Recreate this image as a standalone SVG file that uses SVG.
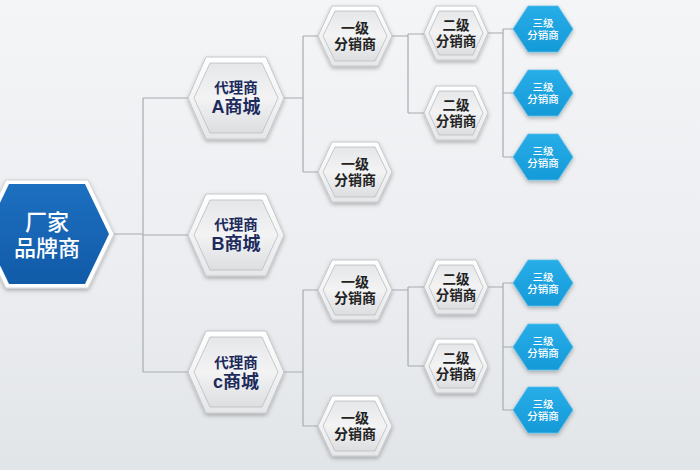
<svg xmlns="http://www.w3.org/2000/svg" xmlns:xlink="http://www.w3.org/1999/xlink" width="700" height="470" viewBox="0 0 700 470">
<defs>
<linearGradient id="bg" x1="0" y1="0" x2="0" y2="1">
<stop offset="0" stop-color="#f4f5f7"/>
<stop offset="0.6" stop-color="#ebedf0"/>
<stop offset="1" stop-color="#e2e5e8"/>
</linearGradient>
<linearGradient id="rim" x1="0" y1="0" x2="0" y2="1">
<stop offset="0" stop-color="#ffffff"/>
<stop offset="1" stop-color="#e6e7e9"/>
</linearGradient>
<linearGradient id="silver" x1="0" y1="0" x2="0" y2="1">
<stop offset="0" stop-color="#e6e7e9"/>
<stop offset="0.5" stop-color="#f3f3f4"/>
<stop offset="1" stop-color="#dcdee0"/>
</linearGradient>
<linearGradient id="blue" x1="0" y1="0" x2="0" y2="1">
<stop offset="0" stop-color="#1d6fc0"/>
<stop offset="1" stop-color="#115ba8"/>
</linearGradient>
<linearGradient id="cyan" x1="0" y1="0" x2="0" y2="1">
<stop offset="0" stop-color="#27ade8"/>
<stop offset="1" stop-color="#169ad8"/>
</linearGradient>
<filter id="sh" x="-20%" y="-20%" width="140%" height="150%">
<feDropShadow dx="0" dy="2" stdDeviation="2" flood-color="#000" flood-opacity="0.28"/>
</filter>
<polygon id="hMainO" points="-67,0 -41,-54 41,-54 67,0 41,54 -41,54"/>
<polygon id="hMainI" points="-62,0 -38,-50 38,-50 62,0 38,50 -38,50"/>
<polygon id="hAgO" points="-48,0 -30,-41 30,-41 48,0 30,41 -30,41"/>
<polygon id="hAgI" points="-42,0 -26,-35 26,-35 42,0 26,35 -26,35"/>
<polygon id="h1O" points="-37,0 -23,-30 23,-30 37,0 23,30 -23,30"/>
<polygon id="h1I" points="-32,0 -20,-25 20,-25 32,0 20,25 -20,25"/>
<polygon id="h2O" points="-32,0 -20,-27 20,-27 32,0 20,27 -20,27"/>
<polygon id="h2I" points="-27,0 -17,-22 17,-22 27,0 17,22 -17,22"/>
<polygon id="h3" points="-30,0 -15,-23 15,-23 30,0 15,23 -15,23"/>
</defs>
<style>
.rim{fill:url(#rim);stroke:#c4c6c9;stroke-width:1;filter:url(#sh)}
.in{fill:url(#silver);stroke:#b9bcc0;stroke-width:0.8}
.main{fill:#ffffff;stroke:#d0d4d8;stroke-width:1;filter:url(#sh)}
.mainI{fill:url(#blue)}
.c3{fill:url(#cyan);stroke:#5cc0ec;stroke-width:0.8;filter:url(#sh)}
text{font-family:"Liberation Sans","Noto Sans CJK SC",sans-serif;text-anchor:middle;dominant-baseline:central}
.tm{fill:#ffffff;font-size:22px;font-weight:500}
.ta{fill:#1c2a5c;font-weight:700}
.ta1{font-size:14.5px}
.ta2{font-size:18px}
.t1{fill:#222;font-size:14px;font-weight:700}
.t2{fill:#222;font-size:13.5px;font-weight:700}
.t3{fill:#ffffff;font-size:10.5px;font-weight:500}
.ln{stroke:#a7abb0;stroke-width:1.2;fill:none}
</style>
<rect width="700" height="470" fill="url(#bg)"/>
<g id="connectors" class="ln">
<path d="M113,234H143M143,98V372M143,98H188M143,235H188M143,372H188"/>
<path d="M284,98H303M303,36V172M303,36H318M303,172H318"/>
<path d="M284,372H303M303,290V426M303,290H318M303,426H318"/>
<path d="M392,36H408M408,34V113M408,34H424M408,113H424"/>
<path d="M392,290H408M408,287V366M408,287H424M408,366H424"/>
<path d="M488,33H503M503,29V157M503,29H513M503,93H513M503,157H513"/>
<path d="M488,287H503M503,283V410M503,283H513M503,347H513M503,410H513"/>
</g>
<g id="brand" transform="translate(47,234)">
<use href="#hMainO" class="main"/>
<use href="#hMainI" class="mainI"/>
<text class="tm"><tspan x="0" y="-12">厂家</tspan><tspan x="0" y="14">品牌商</tspan></text>
</g>
<g id="agentA" transform="translate(236,98)">
<use href="#hAgO" class="rim"/><use href="#hAgI" class="in"/>
<text class="ta"><tspan class="ta1" x="0" y="-10">代理商</tspan><tspan class="ta2" x="0" y="9">A商城</tspan></text>
</g>
<g id="agentB" transform="translate(236,235)">
<use href="#hAgO" class="rim"/><use href="#hAgI" class="in"/>
<text class="ta"><tspan class="ta1" x="0" y="-10">代理商</tspan><tspan class="ta2" x="0" y="9">B商城</tspan></text>
</g>
<g id="agentC" transform="translate(236,372)">
<use href="#hAgO" class="rim"/><use href="#hAgI" class="in"/>
<text class="ta"><tspan class="ta1" x="0" y="-9">代理商</tspan><tspan class="ta2" x="0" y="10">c商城</tspan></text>
</g>
<g id="l1a" transform="translate(355,36)">
<use href="#h1O" class="rim"/><use href="#h1I" class="in"/>
<text class="t1"><tspan x="0" y="-8">一级</tspan><tspan x="0" y="8">分销商</tspan></text>
</g>
<g id="l1b" transform="translate(355,172)">
<use href="#h1O" class="rim"/><use href="#h1I" class="in"/>
<text class="t1"><tspan x="0" y="-8">一级</tspan><tspan x="0" y="8">分销商</tspan></text>
</g>
<g id="l1c" transform="translate(355,290)">
<use href="#h1O" class="rim"/><use href="#h1I" class="in"/>
<text class="t1"><tspan x="0" y="-8">一级</tspan><tspan x="0" y="8">分销商</tspan></text>
</g>
<g id="l1d" transform="translate(355,426)">
<use href="#h1O" class="rim"/><use href="#h1I" class="in"/>
<text class="t1"><tspan x="0" y="-8">一级</tspan><tspan x="0" y="8">分销商</tspan></text>
</g>
<g id="l2a" transform="translate(456,33)">
<use href="#h2O" class="rim"/><use href="#h2I" class="in"/>
<text class="t2"><tspan x="0" y="-8">二级</tspan><tspan x="0" y="8">分销商</tspan></text>
</g>
<g id="l2b" transform="translate(456,113)">
<use href="#h2O" class="rim"/><use href="#h2I" class="in"/>
<text class="t2"><tspan x="0" y="-8">二级</tspan><tspan x="0" y="8">分销商</tspan></text>
</g>
<g id="l2c" transform="translate(456,287)">
<use href="#h2O" class="rim"/><use href="#h2I" class="in"/>
<text class="t2"><tspan x="0" y="-8">二级</tspan><tspan x="0" y="8">分销商</tspan></text>
</g>
<g id="l2d" transform="translate(456,366)">
<use href="#h2O" class="rim"/><use href="#h2I" class="in"/>
<text class="t2"><tspan x="0" y="-8">二级</tspan><tspan x="0" y="8">分销商</tspan></text>
</g>
<g id="l3a" transform="translate(543,29)"><use href="#h3" class="c3"/><text class="t3"><tspan x="0" y="-6">三级</tspan><tspan x="0" y="6">分销商</tspan></text></g>
<g id="l3b" transform="translate(543,93)"><use href="#h3" class="c3"/><text class="t3"><tspan x="0" y="-6">三级</tspan><tspan x="0" y="6">分销商</tspan></text></g>
<g id="l3c" transform="translate(543,157)"><use href="#h3" class="c3"/><text class="t3"><tspan x="0" y="-6">三级</tspan><tspan x="0" y="6">分销商</tspan></text></g>
<g id="l3d" transform="translate(543,283)"><use href="#h3" class="c3"/><text class="t3"><tspan x="0" y="-6">三级</tspan><tspan x="0" y="6">分销商</tspan></text></g>
<g id="l3e" transform="translate(543,347)"><use href="#h3" class="c3"/><text class="t3"><tspan x="0" y="-6">三级</tspan><tspan x="0" y="6">分销商</tspan></text></g>
<g id="l3f" transform="translate(543,410)"><use href="#h3" class="c3"/><text class="t3"><tspan x="0" y="-6">三级</tspan><tspan x="0" y="6">分销商</tspan></text></g>
</svg>
